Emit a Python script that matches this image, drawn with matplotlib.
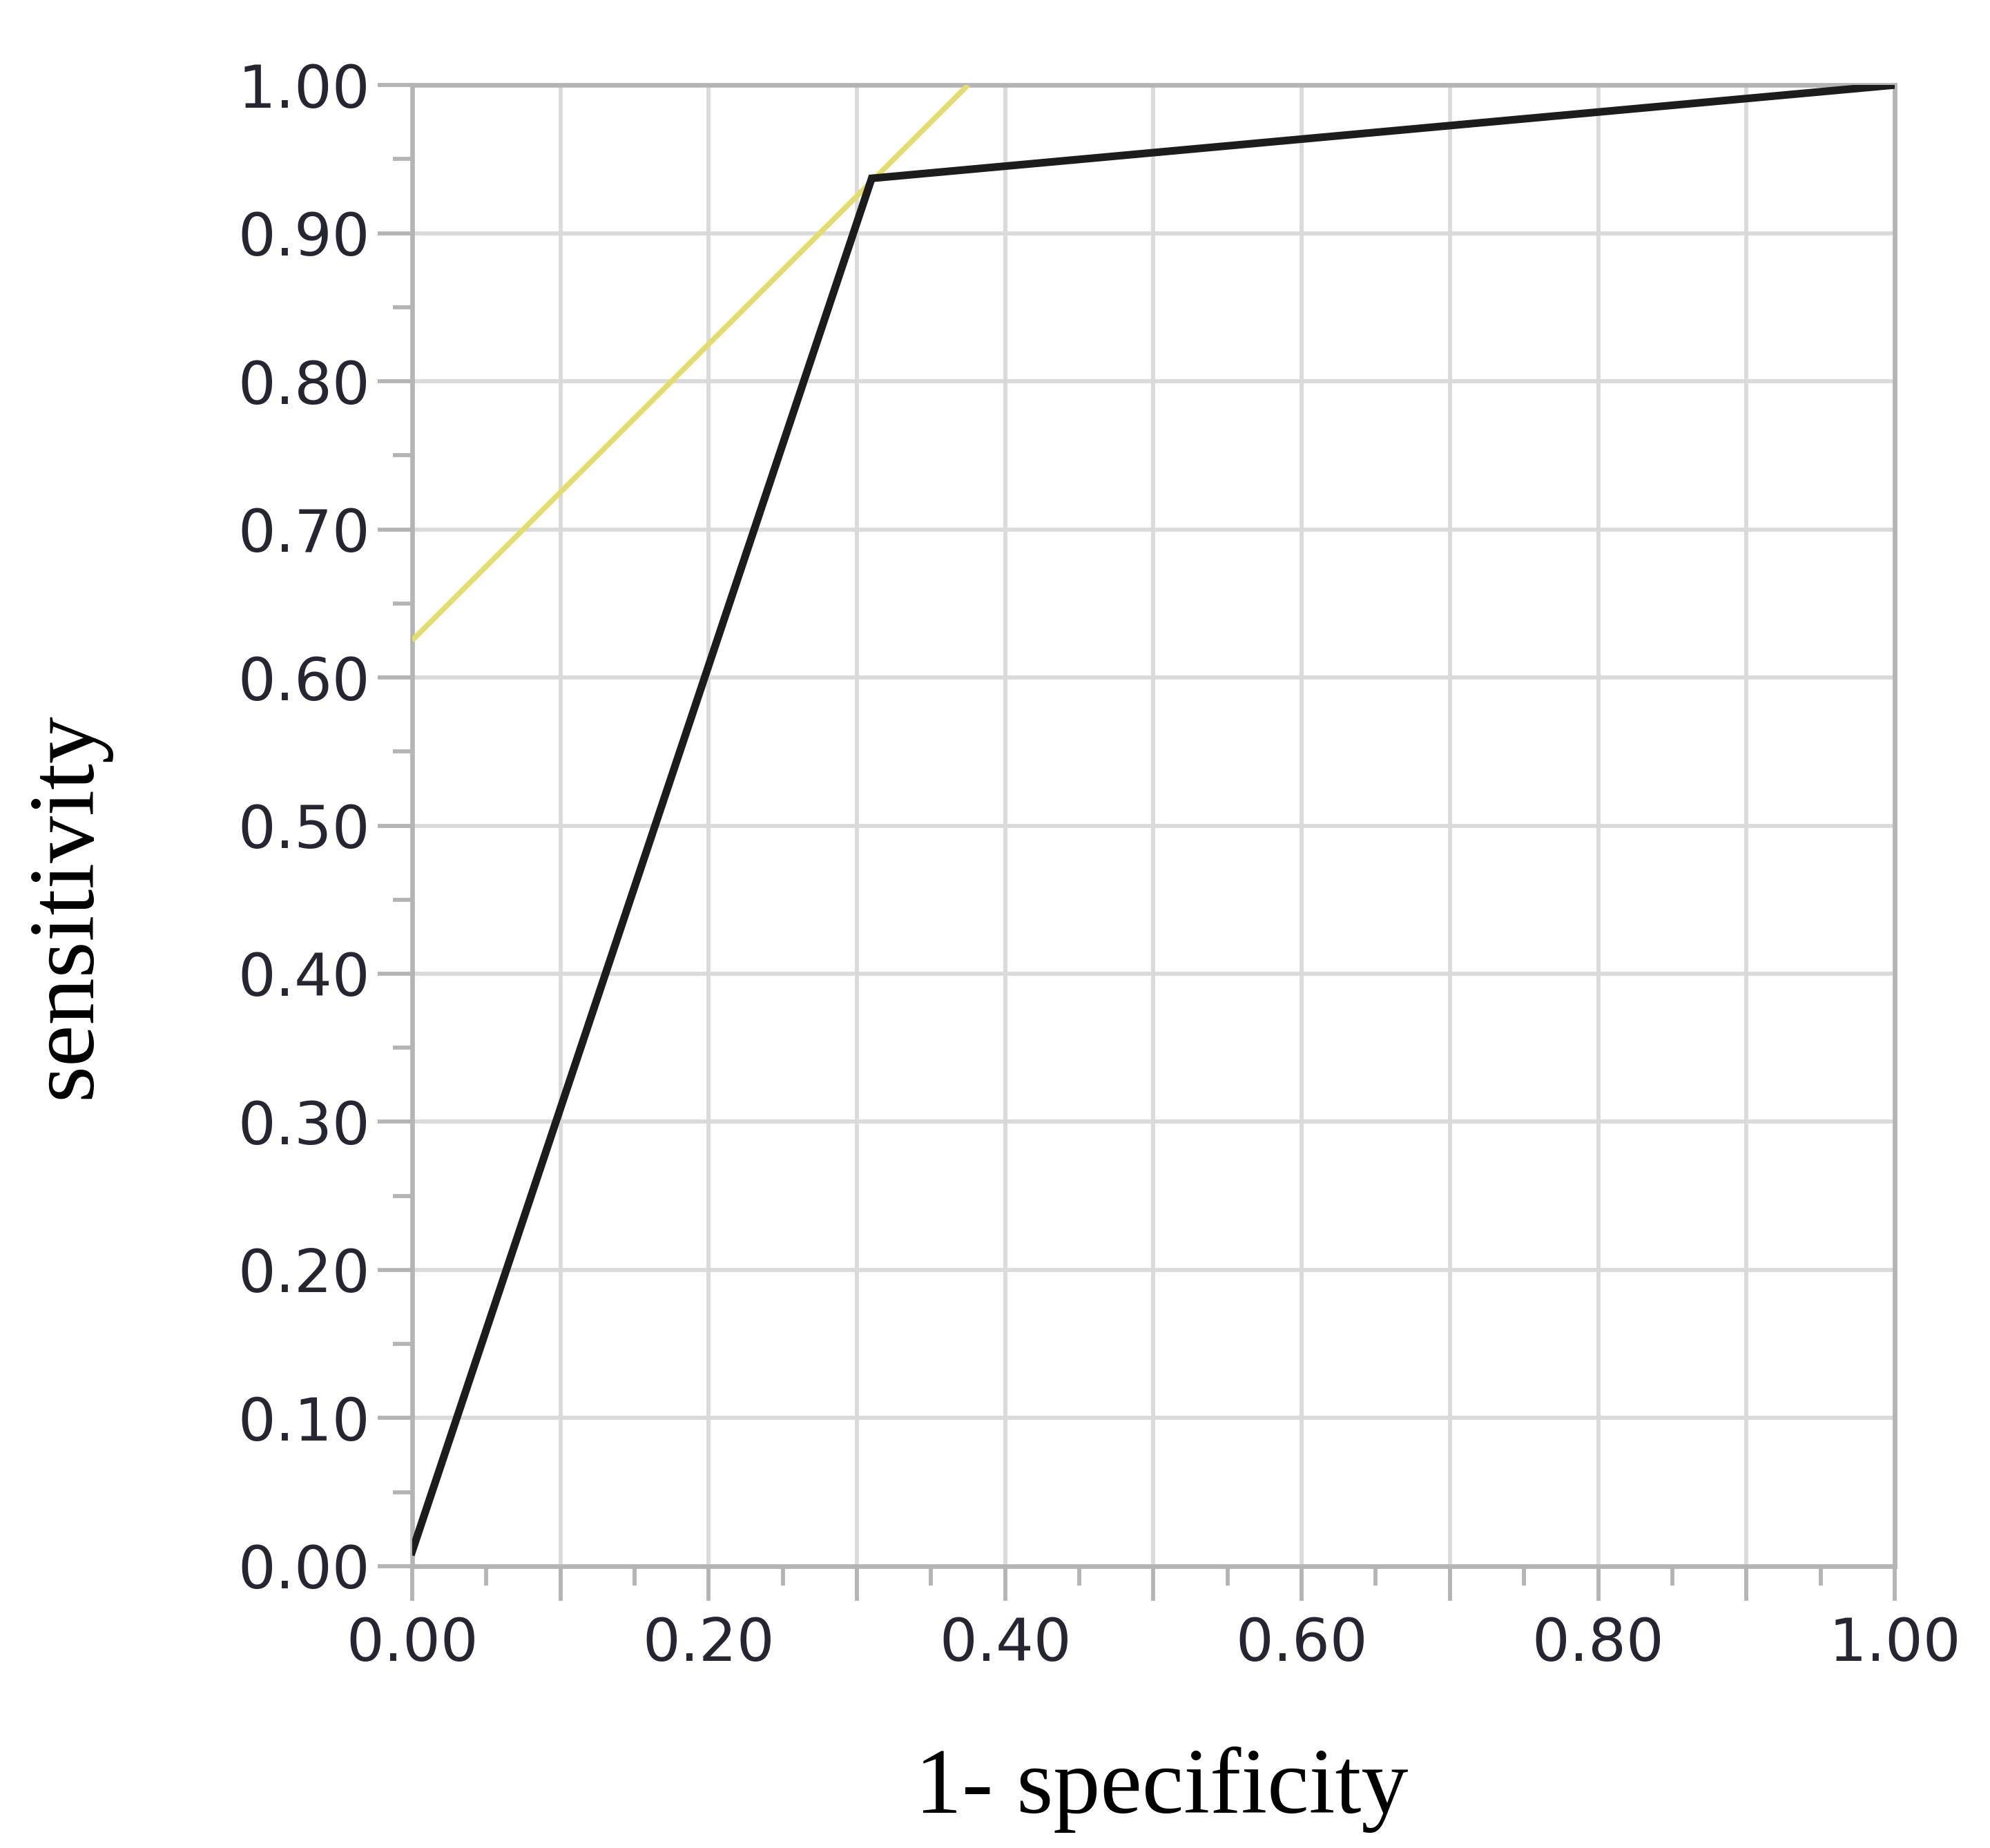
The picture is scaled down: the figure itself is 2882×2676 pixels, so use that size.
import numpy as np
import matplotlib
matplotlib.use("Agg")
import matplotlib.pyplot as plt
from matplotlib.ticker import MultipleLocator, FuncFormatter

# ROC curve points (1 - specificity, sensitivity)
roc_fpr = [0.0, 0.31, 1.0]
roc_tpr = [0.01, 0.937, 1.0]

# tangent line through the cut-off point
tangent_x = [0.0, 0.375]
tangent_y = [0.625, 1.0]

x_label = "1- specificity"
y_label = "sensitivity"

fig = plt.figure(figsize=(28.82, 26.76), dpi=100)
ax = fig.add_axes([0.2071, 0.1525, 0.9521 - 0.2071, 0.9540 - 0.1525])

spine_col = "#b4b4b4"
grid_col = "#dadada"
tick_txt = "#262633"

ax.plot(tangent_x, tangent_y, color="#e3dc6e", lw=5.5, solid_capstyle="butt", zorder=3)
ax.plot(roc_fpr, roc_tpr, color="#1c1c1c", lw=8, solid_joinstyle="miter", zorder=4)

ax.set_xlim(0, 1)
ax.set_ylim(0, 1)

# major every 0.1, x labels only every 0.2
ax.xaxis.set_major_locator(MultipleLocator(0.1))
ax.xaxis.set_minor_locator(MultipleLocator(0.05))
ax.yaxis.set_major_locator(MultipleLocator(0.1))
ax.yaxis.set_minor_locator(MultipleLocator(0.05))
ax.xaxis.set_major_formatter(FuncFormatter(
    lambda v, p: "%.2f" % v if round(v * 10) % 2 == 0 else ""))
ax.yaxis.set_major_formatter(FuncFormatter(lambda v, p: "%.2f" % v))

ax.grid(True, which="major", color=grid_col, lw=4.2, zorder=1)
ax.set_axisbelow(True)

for s in ax.spines.values():
    s.set_color(spine_col)
    s.set_linewidth(4.8)

ax.tick_params(axis="both", which="major", length=36, width=4.2, color=spine_col,
               labelsize=62, labelcolor=tick_txt)
ax.tick_params(axis="both", which="minor", length=20, width=4.2, color=spine_col)
ax.tick_params(axis="x", which="major", pad=16)
ax.tick_params(axis="y", which="major", pad=8)

for lab in ax.get_xticklabels() + ax.get_yticklabels():
    lab.set_fontfamily("DejaVu Sans")

fig.text(0.5836, 0.019, x_label, fontsize=98, family="Liberation Serif",
         ha="center", va="baseline")
fig.text(0.034, 0.510, y_label, fontsize=98, family="Liberation Serif",
         ha="center", va="center", rotation=90)

fig.savefig("out.png", dpi=100)
